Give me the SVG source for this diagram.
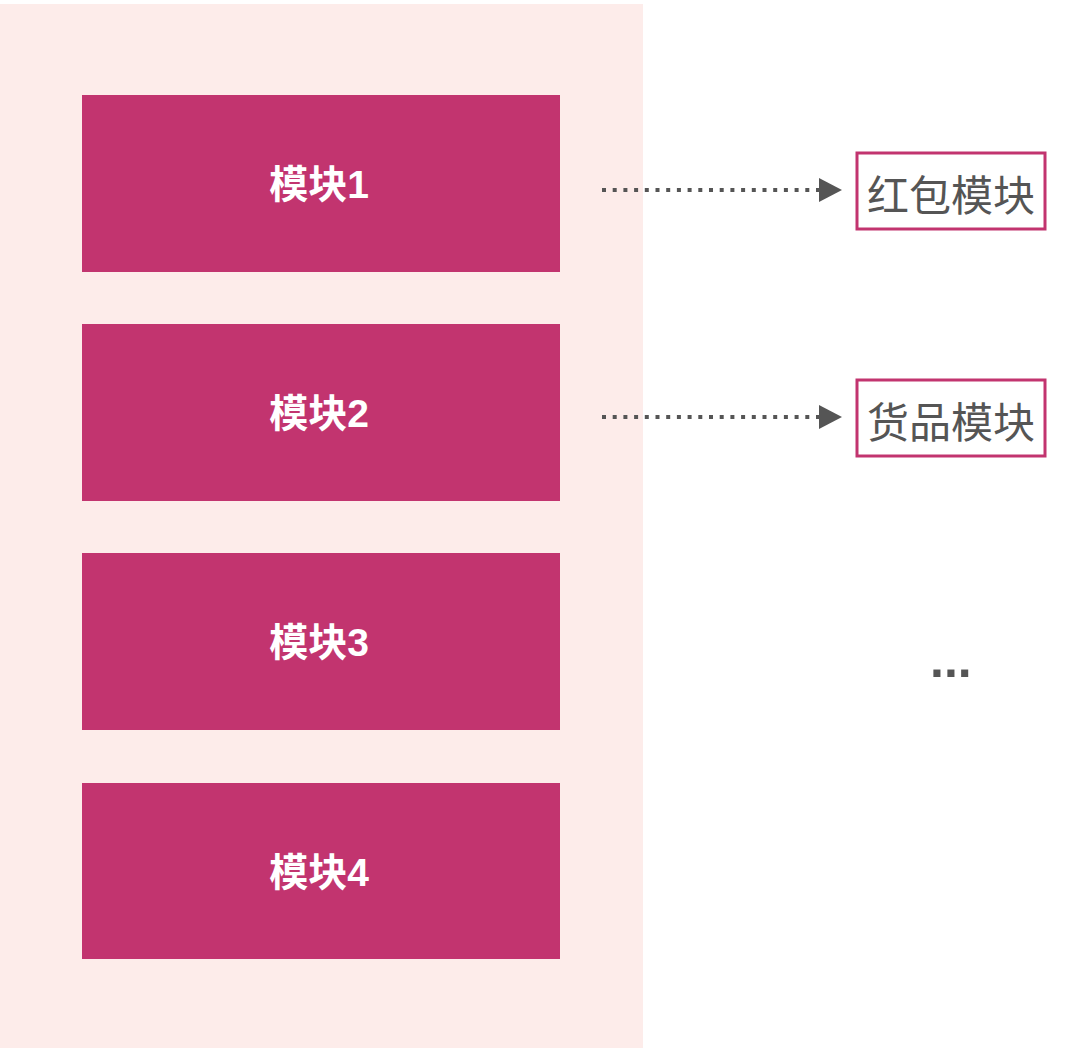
<svg xmlns="http://www.w3.org/2000/svg" width="1080" height="1052" viewBox="0 0 1080 1052">
  <defs>
    <style>
      .mod { fill: #C2346F; }
      .modtxt { fill: #FFFFFF; font-family: "Liberation Sans", "Noto Sans CJK SC", sans-serif; font-size: 39px; font-weight: bold; text-anchor: middle; dominant-baseline: central; }
      .lbl { fill: #FFFFFF; stroke: #C2346F; stroke-width: 3; }
      .lbltxt { fill: #555555; font-family: "Noto Sans CJK SC", sans-serif; font-size: 42px; text-anchor: middle; dominant-baseline: central; }
      .conn { stroke: #555555; stroke-width: 4; stroke-dasharray: 4 6.7; fill: none; }
    </style>
    <marker id="arrow" markerUnits="userSpaceOnUse" markerWidth="24" markerHeight="26" refX="0" refY="12" orient="auto">
      <path d="M0,0 L23,12 L0,24 Z" fill="#555555"/>
    </marker>
  </defs>
  <rect width="1080" height="1052" fill="#FFFFFF"/>
  <rect id="panel" x="0" y="4" width="643" height="1044" fill="#FDECEA"/>

  <g id="module1">
    <rect class="mod" x="82" y="95" width="478" height="177"/>
    <text class="modtxt" x="319" y="184">模块1</text>
  </g>
  <g id="module2">
    <rect class="mod" x="82" y="324" width="478" height="177"/>
    <text class="modtxt" x="319" y="413">模块2</text>
  </g>
  <g id="module3">
    <rect class="mod" x="82" y="553" width="478" height="177"/>
    <text class="modtxt" x="319" y="642">模块3</text>
  </g>
  <g id="module4">
    <rect class="mod" x="82" y="783" width="478" height="176"/>
    <text class="modtxt" x="319" y="872">模块4</text>
  </g>

  <g id="redpacket">
    <rect class="lbl" x="857" y="153" width="188" height="76"/>
    <text class="lbltxt" x="951" y="192">红包模块</text>
  </g>
  <g id="goods">
    <rect class="lbl" x="857" y="380" width="188" height="76"/>
    <text class="lbltxt" x="951" y="419">货品模块</text>
  </g>
  <g id="more">
    <text x="930" y="677" fill="#555555" font-family="Liberation Sans, sans-serif" font-size="50" font-weight="bold">...</text>
  </g>

  <g id="connectors">
    <line class="conn" x1="602" y1="190" x2="819" y2="190" marker-end="url(#arrow)"/>
    <line class="conn" x1="602" y1="417" x2="819" y2="417" marker-end="url(#arrow)"/>
  </g>
</svg>
